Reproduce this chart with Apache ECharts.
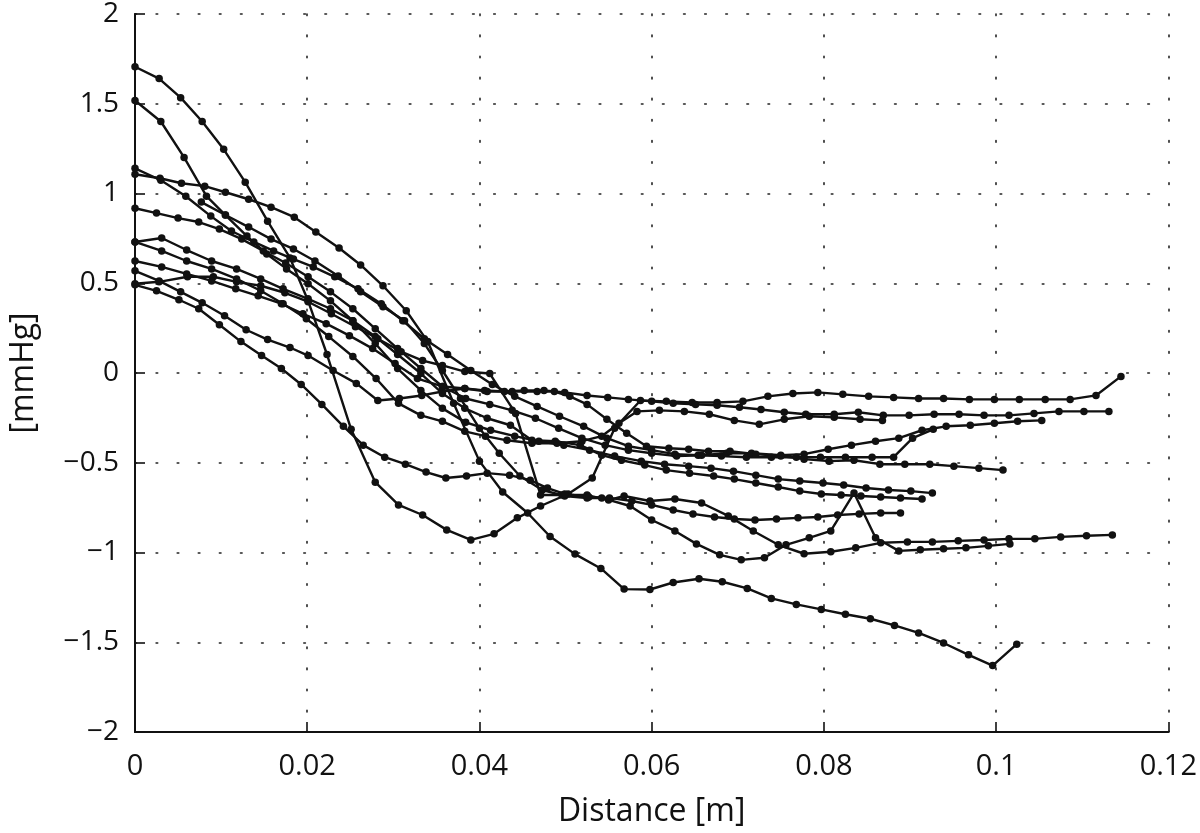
<!DOCTYPE html>
<html><head><meta charset="utf-8">
<script src="https://cdn.jsdelivr.net/npm/echarts@6/dist/echarts.min.js"></script>
<style>html,body{margin:0;padding:0;background:#fff}#c{width:1200px;height:833px}</style>
</head><body><div id="c"></div>
<script>
// Tick values
const xTicks = [0, 0.02, 0.04, 0.06, 0.08, 0.1, 0.12];
const yTicks = [-2, -1.5, -1, -0.5, 0, 0.5, 1, 1.5, 2];

// Series 1 (starts 1.7)
const s1x = [0,0.0028,0.0053,0.0078,0.0103,0.0128,0.0154,0.0180,0.0201,0.0223,0.0251,0.0279,0.0306,0.0334,0.0362,0.0390,0.0417,0.0444,0.0471,0.0503,0.0531,0.0557,0.0587,0.0617,0.0647,0.0676,0.0706,0.0735,0.0764,0.0793,0.0822,0.0852,0.0881,0.0910,0.0939,0.0969,0.0998,0.1027,0.1057,0.1086,0.1116,0.1145];
const s1y = [1.706,1.640,1.534,1.401,1.246,1.063,0.846,0.641,0.402,0.103,-0.314,-0.608,-0.735,-0.791,-0.874,-0.930,-0.896,-0.807,-0.741,-0.674,-0.585,-0.308,-0.153,-0.158,-0.164,-0.164,-0.158,-0.130,-0.114,-0.108,-0.119,-0.130,-0.136,-0.142,-0.142,-0.147,-0.147,-0.147,-0.147,-0.147,-0.125,-0.019];
// Series 2 (starts 1.11, lowest at end)
const s2x = [0,0.0029,0.0054,0.0081,0.0105,0.0132,0.0158,0.0185,0.0210,0.0237,0.0262,0.0288,0.0315,0.0340,0.0370,0.0400,0.0427,0.0456,0.0482,0.0511,0.0541,0.0568,0.0598,0.0625,0.0655,0.0682,0.0711,0.0739,0.0768,0.0797,0.0825,0.0854,0.0882,0.0910,0.0939,0.0968,0.0996,0.1024];
const s2y = [1.107,1.085,1.057,1.041,1.007,0.968,0.924,0.868,0.785,0.696,0.602,0.486,0.347,0.175,-0.169,-0.491,-0.663,-0.780,-0.911,-1.009,-1.089,-1.204,-1.206,-1.167,-1.146,-1.163,-1.200,-1.256,-1.289,-1.317,-1.344,-1.369,-1.406,-1.448,-1.504,-1.570,-1.630,-1.511];
// Series 3 (starts 1.52)
const s3x = [0,0.0030,0.0057,0.0083,0.0105,0.0130,0.0153,0.0176,0.0201,0.0227,0.0253,0.0279,0.0305,0.0332,0.0357,0.0384,0.0413,0.0441,0.0469,0.0498,0.0528,0.0557,0.0588,0.0615,0.0643,0.0669,0.0695,0.0721,0.0747,0.0772,0.0799,0.0823,0.0849,0.0875,0.0901,0.0926];
const s3y = [1.518,1.401,1.201,0.985,0.880,0.763,0.663,0.580,0.497,0.402,0.291,0.164,0.025,-0.097,-0.197,-0.275,-0.319,-0.352,-0.380,-0.402,-0.430,-0.463,-0.491,-0.508,-0.519,-0.530,-0.547,-0.569,-0.591,-0.602,-0.613,-0.624,-0.641,-0.652,-0.658,-0.669];
// Series 4 (starts 1.14)
const s4x = [0,0.0030,0.0059,0.0088,0.0112,0.0138,0.0161,0.0184,0.0207,0.0232,0.0259,0.0286,0.0311,0.0336,0.0363,0.0390,0.0415,0.0441,0.0467,0.0493,0.0521,0.0548,0.0573,0.0600,0.0627,0.0654,0.0681,0.0710,0.0739,0.0768,0.0796,0.0825,0.0856,0.0881,0.0903,0.0927];
const s4y = [1.140,1.074,0.985,0.874,0.791,0.730,0.680,0.635,0.591,0.536,0.469,0.386,0.291,0.191,0.103,0.014,-0.064,-0.130,-0.186,-0.241,-0.297,-0.363,-0.408,-0.430,-0.452,-0.458,-0.463,-0.469,-0.469,-0.469,-0.469,-0.469,-0.469,-0.469,-0.363,-0.314];
// Series 5 (starts 0.92)
const s5x = [0,0.0025,0.0050,0.0074,0.0098,0.0124,0.0149,0.0175,0.0201,0.0227,0.0253,0.0279,0.0305,0.0332,0.0357,0.0384,0.0412,0.0438,0.0465,0.0492,0.0519,0.0546,0.0573,0.0600,0.0629,0.0658,0.0687,0.0716,0.0750,0.0777,0.0805,0.0832,0.0860,0.0887,0.0914,0.0942,0.0970,0.0998,0.1025,0.1053];
const s5y = [0.918,0.891,0.863,0.841,0.802,0.746,0.680,0.613,0.536,0.452,0.358,0.247,0.136,0.025,-0.075,-0.142,-0.175,-0.208,-0.252,-0.308,-0.363,-0.402,-0.430,-0.447,-0.463,-0.458,-0.447,-0.447,-0.458,-0.452,-0.425,-0.402,-0.380,-0.363,-0.319,-0.297,-0.291,-0.280,-0.269,-0.264];
// Series 6 (starts at 0.0077, with spike)
const s6x = [0.0077,0.0105,0.0132,0.0158,0.0184,0.0209,0.0236,0.0262,0.0288,0.0313,0.0336,0.0357,0.0378,0.0400,0.0423,0.0447,0.0473,0.0499,0.0525,0.0542,0.0575,0.0600,0.0627,0.0652,0.0679,0.0704,0.0731,0.0756,0.0783,0.0808,0.0835,0.0860,0.0887,0.0912,0.0939,0.0965,0.0991,0.1016];
const s6y = [0.952,0.880,0.813,0.746,0.691,0.624,0.541,0.452,0.369,0.291,0.164,0.014,-0.142,-0.308,-0.447,-0.574,-0.652,-0.685,-0.696,-0.696,-0.741,-0.819,-0.880,-0.952,-1.013,-1.041,-1.029,-0.957,-0.918,-0.880,-0.669,-0.918,-0.991,-0.985,-0.979,-0.974,-0.963,-0.952];
// Series 7 (starts 0.73)
const s7x = [0,0.0031,0.0060,0.0089,0.0118,0.0146,0.0172,0.0201,0.0227,0.0253,0.0279,0.0305,0.0332,0.0357,0.0383,0.0409,0.0436,0.0461,0.0488,0.0517,0.0542,0.0565,0.0592,0.0617,0.0644,0.0672,0.0696,0.0721,0.0747,0.0772,0.0797,0.0820,0.0843,0.0866,0.0889,0.0914];
const s7y = [0.730,0.752,0.685,0.624,0.580,0.524,0.469,0.413,0.358,0.291,0.203,0.103,-0.003,-0.114,-0.197,-0.252,-0.291,-0.375,-0.380,-0.402,-0.458,-0.486,-0.513,-0.541,-0.558,-0.574,-0.591,-0.613,-0.635,-0.658,-0.674,-0.680,-0.685,-0.691,-0.696,-0.702];
// Series 8 (starts 0.50)
const s8x = [0,0.0028,0.0061,0.0091,0.0118,0.0146,0.0174,0.0201,0.0228,0.0256,0.0282,0.0309,0.0334,0.0357,0.0383,0.0412,0.0442,0.0471,0.0496,0.0525,0.0550,0.0568,0.0598,0.0627,0.0658,0.0689,0.0718,0.0747,0.0777,0.0808,0.0837,0.0866,0.0897,0.0926,0.0956,0.0986,0.1015,0.1045,0.1075,0.1105,0.1135];
const s8y = [0.497,0.508,0.536,0.536,0.508,0.486,0.447,0.397,0.330,0.258,0.191,0.119,0.069,0.042,0.008,-0.003,-0.225,-0.680,-0.680,-0.680,-0.708,-0.685,-0.713,-0.702,-0.724,-0.796,-0.880,-0.957,-1.007,-0.996,-0.974,-0.946,-0.941,-0.941,-0.935,-0.930,-0.924,-0.924,-0.913,-0.907,-0.902];
// Series 9 (starts 0.49)
const s9x = [0,0.0025,0.0051,0.0074,0.0098,0.0123,0.0147,0.0170,0.0193,0.0217,0.0242,0.0265,0.0290,0.0314,0.0338,0.0361,0.0385,0.0409,0.0435,0.0459,0.0479,0.0499,0.0527,0.0551,0.0577,0.0600,0.0625,0.0648,0.0673,0.0696,0.0720,0.0745,0.0770,0.0793,0.0816,0.0841,0.0866,0.0889];
const s9y = [0.491,0.458,0.408,0.358,0.269,0.175,0.097,0.025,-0.064,-0.175,-0.297,-0.402,-0.469,-0.508,-0.552,-0.585,-0.574,-0.558,-0.569,-0.597,-0.641,-0.674,-0.691,-0.696,-0.713,-0.735,-0.763,-0.785,-0.802,-0.813,-0.819,-0.813,-0.807,-0.802,-0.791,-0.785,-0.780,-0.780];
// Series 10 (starts 0.57)
const s10x = [0,0.0028,0.0053,0.0078,0.0104,0.0129,0.0154,0.0180,0.0201,0.0230,0.0257,0.0282,0.0307,0.0333,0.0357,0.0383,0.0406,0.0429,0.0452,0.0475,0.0499,0.0525,0.0549,0.0573,0.0600,0.0625,0.0651,0.0676,0.0702,0.0727,0.0754,0.0779,0.0812,0.0840,0.0869,0.0899,0.0928,0.0957,0.0986,0.1015,0.1044,0.1073,0.1102,0.1131];
const s10y = [0.569,0.513,0.452,0.391,0.319,0.241,0.186,0.142,0.097,0.014,-0.058,-0.153,-0.142,-0.125,-0.103,-0.086,-0.097,-0.103,-0.097,-0.097,-0.108,-0.125,-0.136,-0.147,-0.158,-0.169,-0.175,-0.180,-0.191,-0.203,-0.219,-0.230,-0.230,-0.219,-0.236,-0.236,-0.230,-0.230,-0.236,-0.236,-0.225,-0.214,-0.214,-0.214];
// Series 11 (starts 0.62)
const s11x = [0,0.0031,0.0060,0.0089,0.0117,0.0143,0.0170,0.0195,0.0222,0.0249,0.0276,0.0302,0.0328,0.0357,0.0383,0.0409,0.0438,0.0467,0.0487,0.0505,0.0525,0.0548,0.0571,0.0594,0.0620,0.0643,0.0666,0.0691,0.0721,0.0750,0.0777,0.0806,0.0835,0.0865,0.0894,0.0923,0.0951,0.0980,0.1008];
const s11y = [0.624,0.591,0.552,0.513,0.469,0.430,0.386,0.330,0.275,0.208,0.136,0.053,-0.031,-0.075,-0.086,-0.103,-0.103,-0.103,-0.103,-0.130,-0.175,-0.258,-0.336,-0.408,-0.419,-0.425,-0.436,-0.436,-0.452,-0.463,-0.480,-0.491,-0.486,-0.508,-0.508,-0.508,-0.519,-0.530,-0.541];
// Series 12 (starts 0.73, short)
const s12x = [0,0.0031,0.0060,0.0089,0.0118,0.0146,0.0172,0.0199,0.0225,0.0253,0.0280,0.0306,0.0332,0.0357,0.0383,0.0407,0.0432,0.0461,0.0490,0.0519,0.0542,0.0562,0.0583,0.0609,0.0638,0.0667,0.0696,0.0725,0.0754,0.0783,0.0812,0.0842,0.0868];
const s12y = [0.730,0.680,0.624,0.580,0.524,0.458,0.386,0.302,0.203,0.092,-0.031,-0.169,-0.236,-0.269,-0.325,-0.352,-0.375,-0.391,-0.391,-0.380,-0.352,-0.280,-0.214,-0.208,-0.214,-0.230,-0.264,-0.286,-0.258,-0.241,-0.247,-0.258,-0.264];

const allSeries = [[s1x,s1y],[s2x,s2y],[s3x,s3y],[s4x,s4y],[s5x,s5y],[s6x,s6y],[s7x,s7y],[s8x,s8y],[s9x,s9y],[s10x,s10y],[s11x,s11y],[s12x,s12y]];

const FONT = 'Open Sans';
const chart = echarts.init(document.getElementById('c'), null, {renderer: 'canvas'});
const gridLine = {show: true, lineStyle: {color: '#222', width: 1.6, type: [1.6, 19.5], cap: 'round'}};
chart.setOption({
  animation: false,
  backgroundColor: '#fff',
  grid: {left: 131, right: 31, top: 14, bottom: 98, containLabel: false},
  xAxis: {
    type: 'value', min: 0, max: 0.12, interval: 0.02,
    name: 'Distance [m]', nameLocation: 'middle', nameGap: 64,
    nameTextStyle: {fontFamily: FONT, fontSize: 32, color: '#111'},
    axisLine: {onZero: false, lineStyle: {color: '#111', width: 2}},
    axisTick: {inside: true, length: 10, lineStyle: {color: '#111', width: 1.6}},
    axisLabel: {fontFamily: FONT, fontSize: 29, color: '#111', margin: 20,
      formatter: v => xTicks.includes(+v.toFixed(2)) ? String(+v.toFixed(2)) : ''},
    splitLine: gridLine
  },
  yAxis: {
    type: 'value', min: -2, max: 2, interval: 0.5,
    name: '[mmHg]', nameLocation: 'middle', nameGap: 95, nameRotate: 90,
    nameTextStyle: {fontFamily: FONT, fontSize: 32, color: '#111'},
    axisLine: {onZero: false, lineStyle: {color: '#111', width: 2}},
    axisTick: {inside: true, length: 10, lineStyle: {color: '#111', width: 1.6}},
    axisLabel: {fontFamily: FONT, fontSize: 28, color: '#111', margin: 16,
      formatter: v => yTicks.includes(+v.toFixed(1)) ? String(+v.toFixed(1)).replace('-', '\u2212') : ''},
    splitLine: gridLine
  },
  series: allSeries.map(([xs, ys]) => ({
    type: 'line',
    data: xs.map((x, i) => [x, ys[i]]),
    symbol: 'circle', symbolSize: 7.5,
    showSymbol: true,
    lineStyle: {color: '#111', width: 2.4},
    itemStyle: {color: '#111'},
    emphasis: {disabled: true},
    silent: true
  }))
});
</script></body></html>
